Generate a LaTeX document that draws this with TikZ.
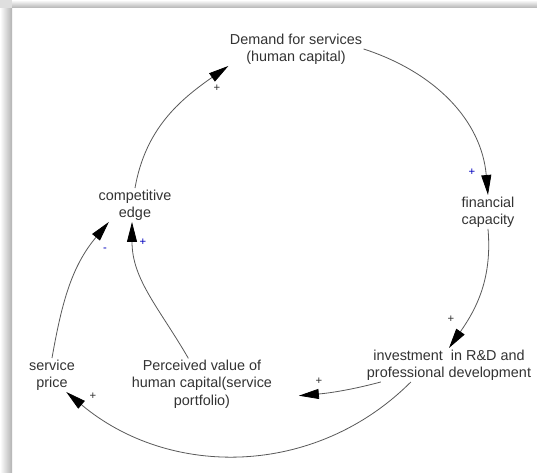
\documentclass[tikz,border=0pt]{standalone}
\usepackage{fontspec}
\setmainfont{Liberation Sans}
\usetikzlibrary{arrows.meta}
\begin{document}
\begin{tikzpicture}[x=0.75pt, y=0.75pt,
        font=\fontsize{10.8}{13}\selectfont,
        var/.style={align=center, inner sep=1pt, text=black!80},
        link/.style={draw=black!65, line width=0.6pt,
                     -{Triangle[length=15pt, width=7.5pt, black]}},
        sign/.style={font=\fontsize{8.5}{9}\selectfont, inner sep=0pt},
        possign/.style={sign, text=black!80},
        bluesign/.style={sign, text=blue!75!black}]
      % Frame
      \useasboundingbox (0,0) rectangle (537,473);
      \fill[white] (0,0) rectangle (537,473);
      \shade[top color=white, bottom color=gray!60] (12,465) rectangle (537,473);
      \shade[left color=white, right color=gray!60] (0,0) rectangle (12,465);
      \fill[gray!25] (0,465) rectangle (12,473);
      % Variables
      \node[var] (demand) at (296,424) {Demand for services\\(human capital)};
      \node[var] (fin)    at (488,261) {financial\\capacity};
      \node[var] (edge)   at (135,268) {competitive\\edge};
      \node[var] (price)  at (52,98)   {service\\price};
      \node[var] (perc)   at (202,89)  {Perceived value of\\human capital(service\\portfolio)};
      \node[var] (inv)    at (449,108) {investment\ \ in R\&D and\\professional development};
      % Links
      \draw[link] (demand.east) to[out=-18, in=95] (fin.north);
      \draw[link] (fin.south) to[out=-85, in=55] (inv.north);
      \draw[link, shorten >=19pt] (inv.194) to[out=195, in=5] (perc.-11);
      \draw[link] (inv.204) to[out=-135, in=-40] (price.-50);
      \draw[link] (price.north) to[out=80, in=230] (edge.213);
      \draw[link] (perc.118) to[out=120, in=-90] (edge.260);
      \draw[link] (edge.north) to[out=80, in=-145] (demand.south west);
      % Polarities
      \node[bluesign] (s1) at (472,301) {+};
      \node[possign]  (s2) at (451,154) {+};
      \node[possign]  (s3) at (319,92)  {+};
      \node[possign]  (s4) at (93,77)   {+};
      \node[bluesign] (s5) at (105,223) {-};
      \node[bluesign] (s6) at (143,231) {+};
      \node[possign]  (s7) at (217,385) {+};
\end{tikzpicture}
\end{document}
